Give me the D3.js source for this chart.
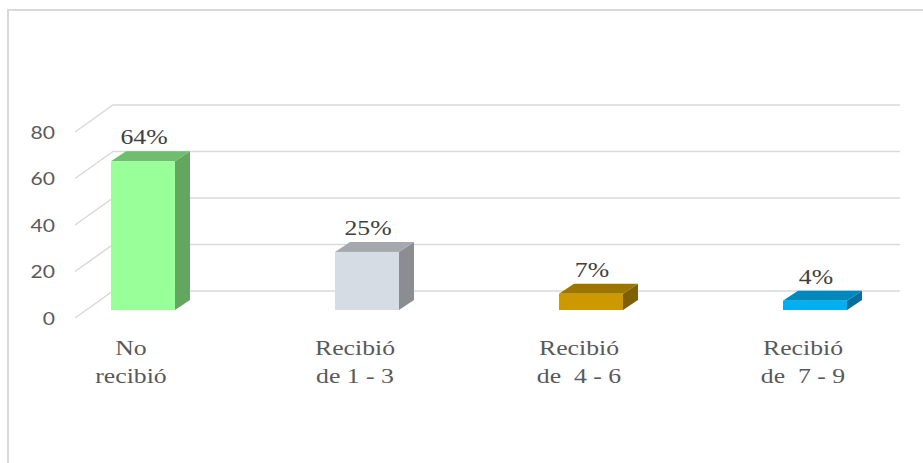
<!DOCTYPE html>
<html>
<head>
<meta charset="utf-8">
<script src="https://cdn.jsdelivr.net/npm/d3@7"></script>
<style>
  html, body { margin: 0; padding: 0; background: #fff; }
  svg { display: block; }
  text { white-space: pre; }
</style>
</head>
<body>
<script>
// ---- data ----
const categories = ["No recibió", "Recibió de 1 - 3", "Recibió de  4 - 6", "Recibió de  7 - 9"];
const categoryLines = [["No", "recibió"], ["Recibió", "de 1 - 3"], ["Recibió", "de  4 - 6"], ["Recibió", "de  7 - 9"]];
const values = [64, 25, 7, 4];
const valueLabels = ["64%", "25%", "7%", "4%"];
const yTicks = [0, 20, 40, 60, 80];
const frontColors = ["#99FF99", "#D6DCE4", "#CC9900", "#00B0F0"];
const topColors = ["#70BD6F", "#A5A8AD", "#9C7500", "#0087BB"];
const sideColors = ["#62A75F", "#8A8D91", "#7F6000", "#0070A0"];

const W = 923, H = 463;
const svg = d3.select("body").append("svg").attr("width", W).attr("height", H);

// frame
svg.append("path")
  .attr("d", `M8,${H} L8,10 L${W},10`)
  .attr("fill", "none").attr("stroke", "#D9D9D9").attr("stroke-width", 2);

// scales
const y = d3.scaleLinear().domain([0, 80]).range([318, 132]); // front plane
const x = d3.scalePoint().domain(categories).range([143, 815]);
const wallDx = 38, wallDy = -27;     // front -> back wall
const barDx = 11, barDy = -8;        // front plane -> bar front face
const depthDx = 15, depthDy = -10;   // bar depth
const barW = 64;
const frontX = 75, backEndX = 900;

// gridlines (back wall + left wall diagonals)
const grid = svg.append("g").attr("fill", "none").attr("stroke", "#D9D9D9").attr("stroke-width", 1.5);
yTicks.forEach(t => {
  const yf = y(t);
  grid.append("path")
    .attr("d", `M${frontX},${yf} L${frontX + wallDx},${yf + wallDy} L${backEndX},${yf + wallDy}`);
});

// tick labels
svg.append("g").selectAll("text").data(yTicks).join("text")
  .attr("transform", d => `translate(55,${y(d)}) scale(1.17,1)`)
  .attr("text-anchor", "end")
  .attr("dominant-baseline", "central")
  .attr("font-family", "Lato, 'Open Sans', sans-serif")
  .attr("font-size", 18)
  .attr("fill", "#595959")
  .text(d => d);

// bars
const bars = svg.append("g");
categories.forEach((c, i) => {
  const cx = x(c);
  const x0 = cx - barW / 2, x1 = cx + barW / 2;
  const yb = y(0) + barDy, yt = y(values[i]) + barDy;
  // side
  bars.append("path")
    .attr("d", `M${x1},${yt} L${x1 + depthDx},${yt + depthDy} L${x1 + depthDx},${yb + depthDy} L${x1},${yb} Z`)
    .attr("fill", sideColors[i]);
  // top
  bars.append("path")
    .attr("d", `M${x0},${yt} L${x0 + depthDx},${yt + depthDy} L${x1 + depthDx},${yt + depthDy} L${x1},${yt} Z`)
    .attr("fill", topColors[i]);
  // front
  bars.append("rect")
    .attr("x", x0).attr("y", yt).attr("width", barW).attr("height", yb - yt)
    .attr("fill", frontColors[i]);
  // value label
  svg.append("text")
    .attr("transform", `translate(${cx + 1},${yt + depthDy - 7}) scale(1.17,1)`)
    .attr("text-anchor", "middle")
    .attr("font-family", "'Liberation Serif', 'Times New Roman', serif")
    .attr("font-size", 22)
    .attr("fill", "#404040")
    .text(valueLabels[i]);
  // category label
  categoryLines[i].forEach((ln, k) => {
    svg.append("text")
      .attr("transform", `translate(${cx - 12},${355 + k * 28}) scale(1.17,1)`)
      .attr("text-anchor", "middle")
      .attr("font-family", "'Liberation Serif', 'Times New Roman', serif")
      .attr("font-size", 22)
      .attr("fill", "#595959")
      .text(ln);
  });
});
</script>
</body>
</html>
